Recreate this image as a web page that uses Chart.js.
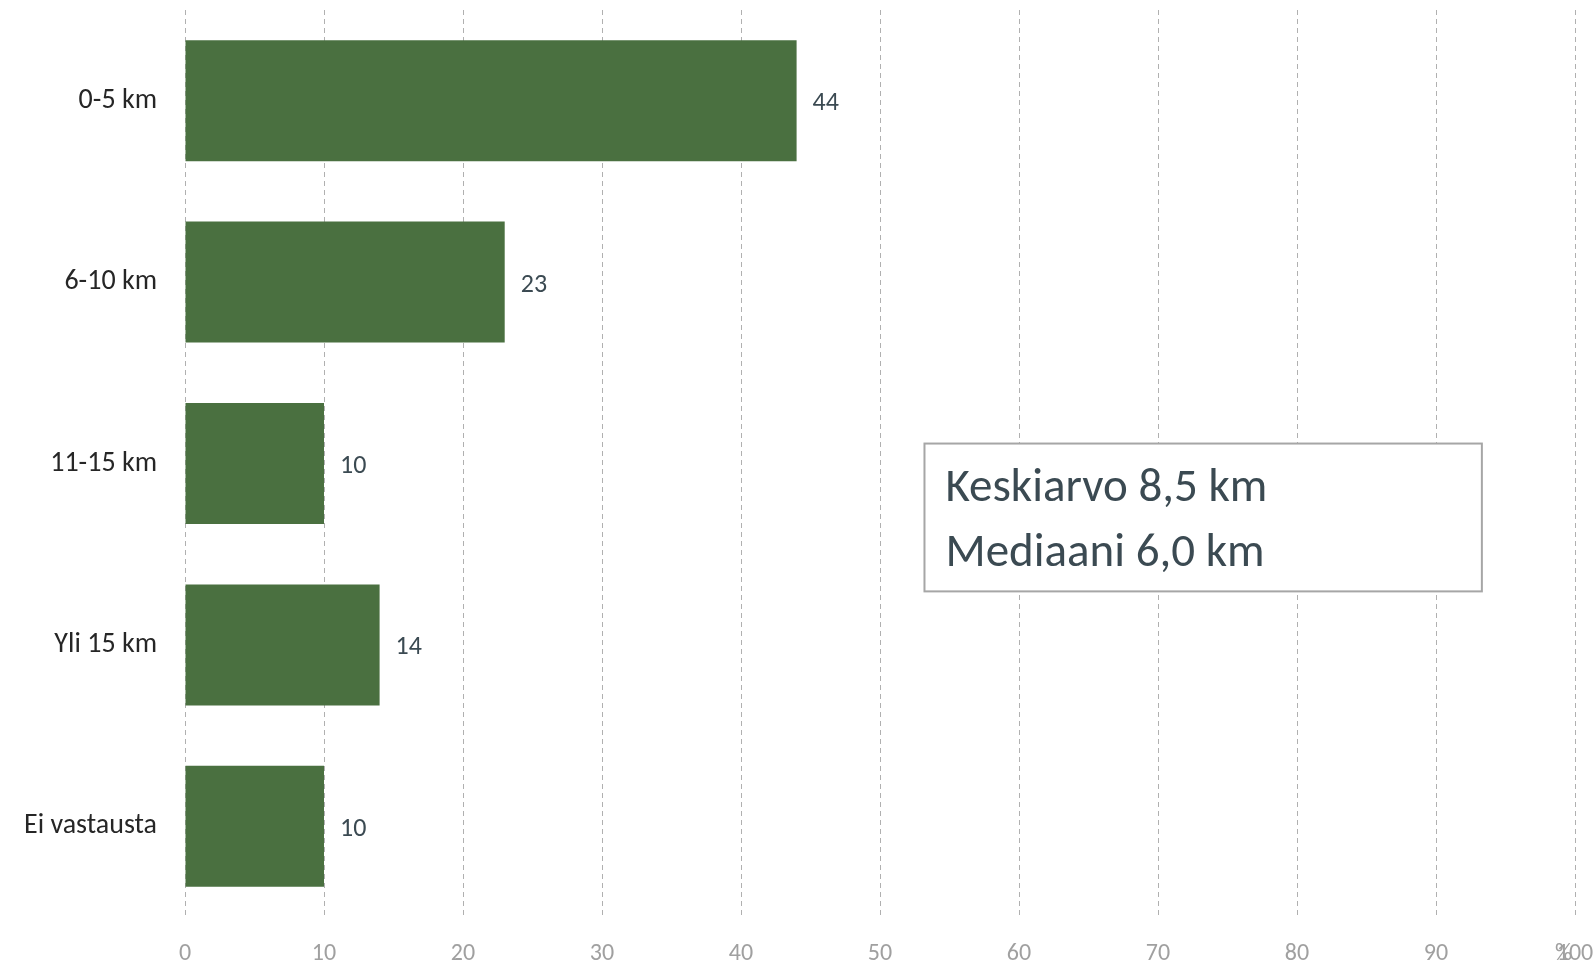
<!DOCTYPE html>
<html>
<head>
<meta charset="utf-8">
<script src="https://cdn.jsdelivr.net/npm/chart.js@4/dist/chart.umd.min.js"></script>
<style>
  html, body { margin: 0; padding: 0; background: #fff; }
  #wrap { width: 1596px; height: 965px; }
</style>
</head>
<body>
<div id="wrap"><canvas id="myChart"></canvas></div>
<script>
let categories = ['0-5 km', '6-10 km', '11-15 km', 'Yli 15 km', 'Ei vastausta'];
let shares = [44, 23, 10, 14, 10];
let boxLines = ['Keskiarvo 8,5 km', 'Mediaani 6,0 km'];
let unitLabel = '%';

let fontFamily = 'Carlito, Calibri, Lato, sans-serif';

// value labels next to the bars
let valueLabels = {
    id: 'valueLabels',
    afterDatasetsDraw(chart) {
        let ctx = chart.ctx;
        let meta = chart.getDatasetMeta(0);
        ctx.save();
        ctx.font = '26px ' + fontFamily;
        ctx.fillStyle = '#3b4a52';
        ctx.textAlign = 'left';
        ctx.textBaseline = 'middle';
        meta.data.forEach((bar, i) => {
            ctx.fillText(String(shares[i]), bar.x + 16, bar.y + 3);
        });
        ctx.restore();
    }
};

// the mean / median box and the % unit at the axis end
let extras = {
    id: 'extras',
    afterDraw(chart) {
        let ctx = chart.ctx;
        let x = chart.scales.x;
        let y = chart.scales.y;
        let left = x.getPixelForValue(53.2);
        let right = x.getPixelForValue(93.3);
        let top = y.getPixelForValue(1.89);
        let bottom = y.getPixelForValue(2.705);
        ctx.save();
        ctx.fillStyle = '#ffffff';
        ctx.fillRect(left, top, right - left, bottom - top);
        ctx.strokeStyle = '#a6a6a6';
        ctx.lineWidth = 2;
        ctx.strokeRect(left, top, right - left, bottom - top);
        ctx.font = '47px ' + fontFamily;
        ctx.fillStyle = '#3b4a52';
        ctx.textBaseline = 'alphabetic';
        ctx.fillText(boxLines[0], left + 21, top + 57);
        ctx.fillText(boxLines[1], left + 21, top + 122);

        ctx.font = '24px ' + fontFamily;
        ctx.fillStyle = '#a0a0a0';
        ctx.textBaseline = 'middle';
        ctx.textAlign = 'left';
        ctx.fillText(unitLabel, x.getPixelForValue(100) - 20, chart.chartArea.bottom + 37);
        ctx.restore();
    }
};

let ctx = document.getElementById('myChart').getContext('2d');
let chart = new Chart(ctx, {
    type: 'bar',
    data: {
        labels: categories,
        datasets: [{
            data: shares,
            backgroundColor: '#4a7040',
            borderWidth: 0,
            barPercentage: 0.667,
            categoryPercentage: 1.0
        }]
    },
    options: {
        indexAxis: 'y',
        responsive: true,
        maintainAspectRatio: false,
        animation: false,
        layout: { padding: { left: 0, top: 10, right: 21, bottom: 0 } },
        plugins: {
            legend: { display: false },
            tooltip: { enabled: false }
        },
        scales: {
            x: {
                min: 0,
                max: 100,
                ticks: {
                    stepSize: 10,
                    padding: 23,
                    color: '#a0a0a0',
                    font: { family: fontFamily, size: 24 }
                },
                grid: {
                    color: '#b0b0b0',
                    lineWidth: 1,
                    drawTicks: false
                },
                border: { display: false, dash: [5, 4] },
                afterFit(scale) {
                    scale.height = 48;
                    scale.paddingLeft = 0;
                    scale.paddingRight = 0;
                }
            },
            y: {
                ticks: {
                    padding: 28,
                    color: '#262626',
                    font: { family: fontFamily, size: 28 }
                },
                grid: { display: false, drawTicks: false },
                border: { display: false },
                afterFit(scale) {
                    scale.width = 185;
                    scale.paddingTop = 0;
                    scale.paddingBottom = 0;
                }
            }
        }
    },
    plugins: [valueLabels, extras]
});
</script>
</body>
</html>
